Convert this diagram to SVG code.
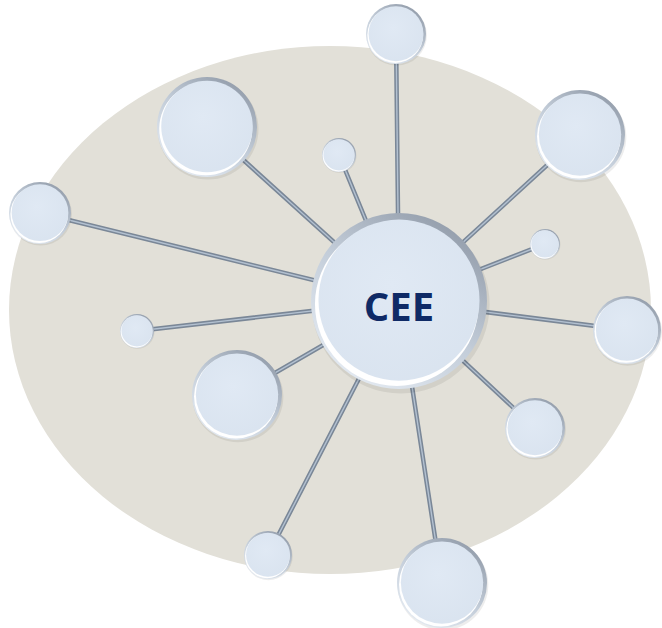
<svg xmlns="http://www.w3.org/2000/svg" xmlns:xlink="http://www.w3.org/1999/xlink" width="662" height="628" viewBox="0 0 662 628">
  <defs>
    <linearGradient id="rim" x1="0.85" y1="0" x2="0.15" y2="1">
      <stop offset="0" stop-color="#8d97a5"/>
      <stop offset="0.5" stop-color="#c3cdd9"/>
      <stop offset="1" stop-color="#e8eef5"/>
    </linearGradient>
    <radialGradient id="face" cx="0.45" cy="0.4" r="0.7">
      <stop offset="0" stop-color="#e0e9f4"/>
      <stop offset="1" stop-color="#d9e3ef"/>
    </radialGradient>
    <g id="ball">
      <circle cx="0.02" cy="0.04" r="1.01" fill="#000" fill-opacity="0.07"/>
      <circle cx="0" cy="0" r="1" fill="url(#rim)"/>
      <circle cx="-0.025" cy="0.035" r="0.93" fill="#ffffff"/>
      <circle cx="0.0" cy="-0.01" r="0.915" fill="url(#face)"/>
    </g>
  </defs>
  <style>
    .bg { fill: #e2e0d8; }
    .wire { stroke: #7a8797; stroke-width: 4.5; stroke-linecap: round; }
    .wire-hi { stroke: #b3c1d1; stroke-width: 1.4; stroke-linecap: round; }
    .label { font-family: "Open Sans", "Liberation Sans", sans-serif; font-weight: 700; font-size: 40px; fill: #0f2a66; }
  </style>

  <ellipse class="bg" cx="330" cy="310" rx="321" ry="264"/>

  <g id="connectors">
    <line class="wire" x1="399" y1="301" x2="396" y2="34"/>
    <line class="wire" x1="399" y1="301" x2="207" y2="127"/>
    <line class="wire" x1="399" y1="301" x2="339" y2="155"/>
    <line class="wire" x1="399" y1="301" x2="580" y2="135"/>
    <line class="wire" x1="399" y1="301" x2="40" y2="213"/>
    <line class="wire" x1="399" y1="301" x2="545" y2="244"/>
    <line class="wire" x1="399" y1="301" x2="627" y2="330"/>
    <line class="wire" x1="399" y1="301" x2="137" y2="331"/>
    <line class="wire" x1="399" y1="301" x2="237" y2="395"/>
    <line class="wire" x1="399" y1="301" x2="535" y2="428"/>
    <line class="wire" x1="399" y1="301" x2="268" y2="555"/>
    <line class="wire" x1="399" y1="301" x2="442" y2="583"/>
    <line class="wire-hi" x1="399" y1="301" x2="396" y2="34"/>
    <line class="wire-hi" x1="399" y1="301" x2="207" y2="127"/>
    <line class="wire-hi" x1="399" y1="301" x2="339" y2="155"/>
    <line class="wire-hi" x1="399" y1="301" x2="580" y2="135"/>
    <line class="wire-hi" x1="399" y1="301" x2="40" y2="213"/>
    <line class="wire-hi" x1="399" y1="301" x2="545" y2="244"/>
    <line class="wire-hi" x1="399" y1="301" x2="627" y2="330"/>
    <line class="wire-hi" x1="399" y1="301" x2="137" y2="331"/>
    <line class="wire-hi" x1="399" y1="301" x2="237" y2="395"/>
    <line class="wire-hi" x1="399" y1="301" x2="535" y2="428"/>
    <line class="wire-hi" x1="399" y1="301" x2="268" y2="555"/>
    <line class="wire-hi" x1="399" y1="301" x2="442" y2="583"/>
  </g>

  <g id="node-top" transform="translate(396,34) scale(30)"><use href="#ball"/></g>
  <g id="node-topleft" transform="translate(207,127) scale(50)"><use href="#ball"/></g>
  <g id="node-upper-small" transform="translate(339,155) scale(17)"><use href="#ball"/></g>
  <g id="node-topright" transform="translate(580,135) scale(45)"><use href="#ball"/></g>
  <g id="node-left" transform="translate(40,213) scale(31)"><use href="#ball"/></g>
  <g id="node-right-small" transform="translate(545,244) scale(15)"><use href="#ball"/></g>
  <g id="node-right" transform="translate(627,330) scale(34)"><use href="#ball"/></g>
  <g id="node-left-small" transform="translate(137,331) scale(17)"><use href="#ball"/></g>
  <g id="node-leftmid" transform="translate(237,395) scale(45)"><use href="#ball"/></g>
  <g id="node-rightlow" transform="translate(535,428) scale(30)"><use href="#ball"/></g>
  <g id="node-bottomleft" transform="translate(268,555) scale(24)"><use href="#ball"/></g>
  <g id="node-bottom" transform="translate(442,583) scale(45)"><use href="#ball"/></g>

  <g id="node-cee">
    <g transform="translate(399,301) scale(88)"><use href="#ball"/></g>
    <text class="label" x="399" y="321" text-anchor="middle">CEE</text>
  </g>
</svg>
